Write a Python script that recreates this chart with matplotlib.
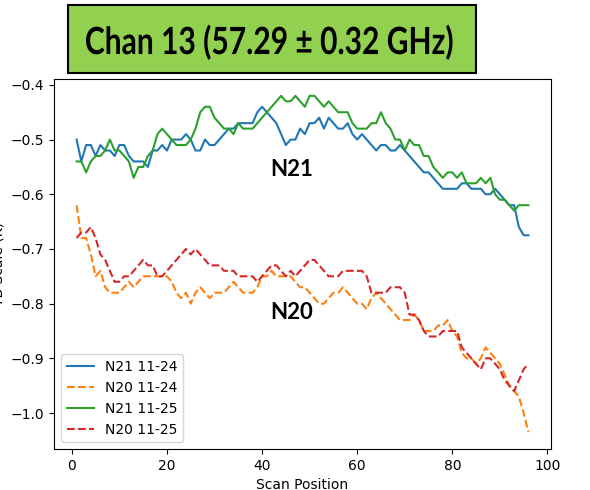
import matplotlib
matplotlib.use("Agg")
import matplotlib.pyplot as plt
import matplotlib.transforms as mtransforms
import matplotlib.patheffects as pe
from matplotlib.patches import Rectangle
import numpy as np

scan = np.arange(1, 97)

n21_1124 = [-0.50, -0.54, -0.51, -0.51, -0.53, -0.51, -0.52, -0.52, -0.53, -0.51,
            -0.51, -0.53, -0.54, -0.54, -0.54, -0.55, -0.52, -0.52, -0.51, -0.52,
            -0.50, -0.50, -0.50, -0.49, -0.50, -0.52, -0.52, -0.50, -0.51, -0.51,
            -0.50, -0.49, -0.48, -0.48, -0.47, -0.47, -0.47, -0.47, -0.45, -0.44,
            -0.45, -0.46, -0.47, -0.49, -0.51, -0.50, -0.50, -0.48, -0.49, -0.47,
            -0.47, -0.46, -0.48, -0.46, -0.47, -0.48, -0.48, -0.47, -0.49, -0.50,
            -0.49, -0.50, -0.51, -0.52, -0.51, -0.51, -0.52, -0.52, -0.51, -0.52,
            -0.53, -0.54, -0.55, -0.56, -0.56, -0.57, -0.58, -0.59, -0.59, -0.59,
            -0.59, -0.58, -0.58, -0.59, -0.59, -0.59, -0.60, -0.60, -0.59, -0.60,
            -0.61, -0.62, -0.62, -0.66, -0.675, -0.675]

n20_1124 = [-0.62, -0.68, -0.68, -0.71, -0.75, -0.74, -0.77, -0.78, -0.78, -0.78,
            -0.77, -0.76, -0.77, -0.76, -0.75, -0.75, -0.75, -0.75, -0.75, -0.75,
            -0.76, -0.78, -0.79, -0.78, -0.80, -0.78, -0.77, -0.78, -0.79, -0.78,
            -0.78, -0.78, -0.77, -0.76, -0.77, -0.78, -0.78, -0.78, -0.77, -0.75,
            -0.75, -0.74, -0.75, -0.75, -0.75, -0.75, -0.76, -0.77, -0.77, -0.78,
            -0.79, -0.80, -0.80, -0.79, -0.78, -0.78, -0.77, -0.78, -0.79, -0.80,
            -0.80, -0.81, -0.79, -0.78, -0.79, -0.80, -0.81, -0.82, -0.83, -0.83,
            -0.83, -0.82, -0.83, -0.85, -0.85, -0.85, -0.84, -0.84, -0.83, -0.85,
            -0.86, -0.89, -0.90, -0.90, -0.91, -0.90, -0.88, -0.89, -0.90, -0.91,
            -0.93, -0.95, -0.96, -0.97, -1.00, -1.035]

n21_1125 = [-0.54, -0.54, -0.56, -0.54, -0.53, -0.53, -0.52, -0.50, -0.52, -0.52,
            -0.53, -0.54, -0.57, -0.55, -0.55, -0.53, -0.52, -0.49, -0.48, -0.49,
            -0.50, -0.51, -0.51, -0.51, -0.50, -0.48, -0.45, -0.44, -0.44, -0.46,
            -0.47, -0.48, -0.48, -0.49, -0.47, -0.48, -0.48, -0.48, -0.47, -0.46,
            -0.45, -0.44, -0.43, -0.42, -0.43, -0.43, -0.42, -0.43, -0.44, -0.42,
            -0.42, -0.43, -0.44, -0.43, -0.44, -0.45, -0.45, -0.45, -0.47, -0.48,
            -0.48, -0.48, -0.47, -0.47, -0.45, -0.47, -0.48, -0.50, -0.50, -0.52,
            -0.50, -0.51, -0.51, -0.53, -0.53, -0.55, -0.56, -0.57, -0.56, -0.56,
            -0.57, -0.56, -0.58, -0.58, -0.58, -0.57, -0.58, -0.57, -0.60, -0.61,
            -0.61, -0.62, -0.63, -0.62, -0.62, -0.62]

n20_1125 = [-0.68, -0.67, -0.67, -0.66, -0.68, -0.71, -0.72, -0.74, -0.76, -0.76,
            -0.75, -0.75, -0.74, -0.73, -0.72, -0.73, -0.73, -0.75, -0.75, -0.74,
            -0.73, -0.72, -0.71, -0.70, -0.71, -0.70, -0.71, -0.72, -0.73, -0.73,
            -0.73, -0.74, -0.74, -0.74, -0.75, -0.75, -0.75, -0.75, -0.76, -0.75,
            -0.74, -0.73, -0.73, -0.74, -0.75, -0.74, -0.75, -0.74, -0.73, -0.72,
            -0.72, -0.73, -0.74, -0.75, -0.75, -0.75, -0.74, -0.74, -0.74, -0.74,
            -0.74, -0.75, -0.78, -0.78, -0.78, -0.78, -0.77, -0.77, -0.77, -0.78,
            -0.82, -0.82, -0.83, -0.85, -0.86, -0.86, -0.86, -0.85, -0.85, -0.85,
            -0.85, -0.88, -0.89, -0.90, -0.91, -0.92, -0.90, -0.90, -0.91, -0.92,
            -0.94, -0.95, -0.96, -0.94, -0.92, -0.91]

title_text = 'Chan 13 (57.29 ± 0.32 GHz)'


class Squeeze(pe.AbstractPathEffect):
    """Narrow the glyphs horizontally around x=cx (display px)."""

    def __init__(self, sx, cx):
        super().__init__()
        self.sx = sx
        self.cx = cx

    def draw_path(self, renderer, gc, tpath, affine, rgbFace=None):
        squeeze = (mtransforms.Affine2D().translate(-self.cx, 0)
                   .scale(self.sx, 1.0).translate(self.cx, 0))
        renderer.draw_path(gc, tpath, affine + squeeze, rgbFace)


W, H = 590, 490
fig = plt.figure(figsize=(W / 100, H / 100), dpi=100)
ax = fig.add_axes([54 / W, 1 - 449 / H, 497 / W, 370 / H])

ax.plot(scan, n21_1124, '-', color='C0', label='N21 11-24')
ax.plot(scan, n20_1124, '--', color='C1', label='N20 11-24')
ax.plot(scan, n21_1125, '-', color='C2', label='N21 11-25')
ax.plot(scan, n20_1125, '--', color='C3', label='N20 11-25')

ax.set_xlabel('Scan Position')
ax.set_ylabel('TB Scale (K)')
ax.legend(loc='lower left')

# slide annotations
ax.text(46.2, -0.555, 'N21', fontsize=16, fontweight='bold', family='Lato',
        ha='center', va='center')
ax.text(46.2, -0.817, 'N20', fontsize=16, fontweight='bold', family='Lato',
        ha='center', va='center')

# green title box pasted over the plot title
fig.patches.append(Rectangle((68 / W, 1 - 73 / H), 408 / W, 68 / H,
                             transform=fig.transFigure, facecolor='#92D050',
                             edgecolor='black', linewidth=1.5))
fig.text(269 / W, 1 - 42 / H, title_text, fontsize=27, fontweight='bold',
         family='Lato', ha='center', va='center',
         path_effects=[Squeeze(0.80, 269)])

fig.savefig('out.png', dpi=100)
